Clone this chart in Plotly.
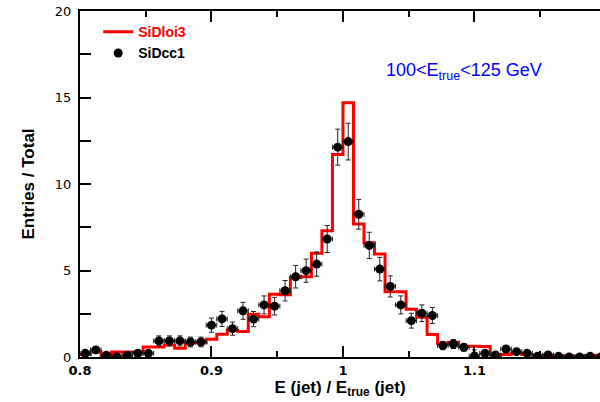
import plotly.graph_objects as go

# ---- data ----
bin_low = 0.8
bin_width = 0.008
n_bins = 50

sidloi3 = [0.15, 0.30, 0.08, 0.29, 0.29, 0.29, 0.58, 0.58, 0.70, 0.50,
           0.83, 0.83, 1.03, 1.31, 1.55, 1.47, 2.47, 2.32, 3.63, 3.60,
           4.60, 4.64, 5.99, 7.30, 11.70, 14.70, 7.69, 6.60, 5.95, 3.77,
           3.77, 2.76, 2.30, 1.30, 0.78, 0.85, 0.62, 0.62, 0.60, 0.10,
           0.15, 0.20, 0.15, 0.08, 0.06, 0.06, 0.06, 0.05, 0.08, 0.05]

sidcc1 = [0.21, 0.41, 0.10, 0.02, 0.10, 0.21, 0.21, 0.93, 0.93, 0.93,
          0.87, 0.87, 1.84, 2.20, 1.64, 2.67, 2.19, 3.01, 2.94, 3.83,
          4.64, 4.99, 5.37, 6.82, 12.13, 12.45, 8.25, 6.45, 5.08, 4.08,
          3.01, 2.10, 2.53, 2.40, 0.66, 0.75, 0.56, 0.06, 0.21, 0.12,
          0.46, 0.31, 0.21, 0.04, 0.12, 0.04, 0.00, 0.00, 0.04, 0.00]

sidcc1_err = [0.14, 0.19, 0.10, 0.05, 0.10, 0.14, 0.14, 0.29, 0.29, 0.29,
              0.28, 0.28, 0.41, 0.44, 0.38, 0.49, 0.44, 0.52, 0.51, 0.59,
              0.65, 0.67, 0.70, 0.78, 1.04, 1.06, 0.86, 0.76, 0.68, 0.61,
              0.52, 0.43, 0.48, 0.46, 0.24, 0.26, 0.22, 0.35, 0.14, 0.10,
              0.20, 0.17, 0.14, 0.06, 0.10, 0.06, 0.00, 0.00, 0.06, 0.00]

x_ticks = [0.8, 0.9, 1.0, 1.1]
x_tick_labels = ["0.8", "0.9", "1", "1.1"]
y_ticks = [0, 5, 10, 15, 20]

# ---- derived ----
edges = [bin_low + bin_width * i for i in range(n_bins + 1)]
centers = [bin_low + bin_width * (i + 0.5) for i in range(n_bins)]
half_w = [bin_width / 2] * n_bins

step_x = edges
step_y = sidloi3 + [sidloi3[-1]]

fig = go.Figure()

fig.add_trace(go.Scatter(
    x=step_x, y=step_y, mode="lines", line=dict(color="#ff0000", width=3, shape="hv"),
    name="<span style='color:#ff0000'>SiDloi3</span>",
))

fig.add_trace(go.Scatter(
    x=centers, y=sidcc1, mode="markers",
    marker=dict(color="black", size=9),
    error_y=dict(type="data", array=sidcc1_err, color="#222222", thickness=1, width=2.5),
    error_x=dict(type="data", array=half_w, color="#222222", thickness=1, width=2.5),
    name="SiDcc1",
))

fig.add_annotation(
    x=0.738, y=0.824, xref="paper", yref="paper", xanchor="center", yanchor="middle",
    text="100<E<sub>true</sub><125 GeV", showarrow=False,
    font=dict(family="Liberation Sans, Arial", size=18, color="#0000ff"),
)

fig.update_layout(
    width=600, height=402,
    margin=dict(l=80, r=0, t=11, b=45),
    plot_bgcolor="white", paper_bgcolor="white",
    showlegend=True,
    legend=dict(x=0.035, y=0.985, xanchor="left", yanchor="top",
                bgcolor="rgba(0,0,0,0)", borderwidth=0, tracegroupgap=0,
                font=dict(family="Liberation Sans, Arial", size=14, color="black", weight="bold")),
    xaxis=dict(
        range=[0.8, 1.1955], showline=True, linecolor="black", linewidth=2, mirror="ticks",
        ticks="inside", ticklen=11, tickwidth=2, tickcolor="black",
        tickvals=x_ticks, ticktext=x_tick_labels,
        minor=dict(dtick=0.05, tick0=0.8, ticks="inside", ticklen=6, tickwidth=2, tickcolor="black"),
        showgrid=False, zeroline=False,
        tickfont=dict(family="DejaVu Sans", size=13, color="black", weight="bold"),
        title=dict(text="E (jet) / E<sub>true</sub> (jet)", standoff=2,
                   font=dict(family="Liberation Sans, Arial", size=17, color="black", weight="bold")),
    ),
    yaxis=dict(
        range=[0, 20], showline=True, linecolor="black", linewidth=2, mirror=False,
        ticks="inside", ticklen=11, tickwidth=2, tickcolor="black",
        tickvals=y_ticks, ticklabelstandoff=4,
        minor=dict(dtick=2.5, tick0=0, ticks="inside", ticklen=11, tickwidth=2, tickcolor="black"),
        showgrid=False, zeroline=False,
        tickfont=dict(family="DejaVu Sans", size=13, color="black"),
        title=dict(text="Entries / Total", standoff=16,
                   font=dict(family="Liberation Sans, Arial", size=17, color="black", weight="bold")),
    ),
)

fig.write_html("out.html", post_script="document.body.style.margin='0';",
               config={"displayModeBar": False})
